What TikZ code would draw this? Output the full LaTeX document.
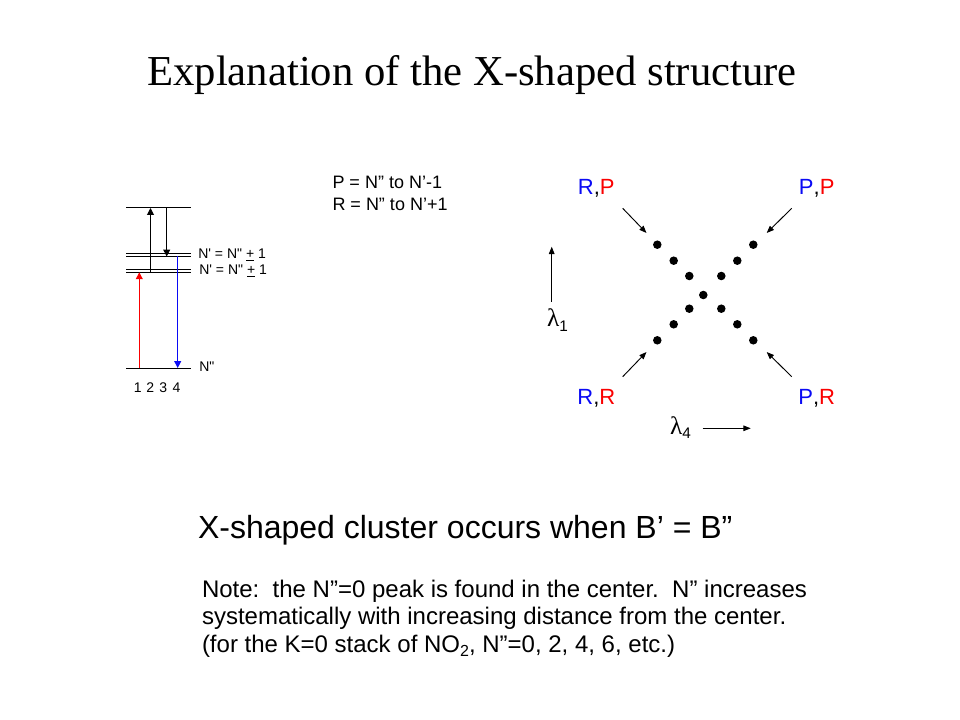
\documentclass[tikz,border=0pt]{standalone}
\usepackage{fontspec}
\setmainfont{Liberation Sans}
\newfontfamily\seriffont{Liberation Serif}
\newfontfamily\plainsans{Liberation Sans}[Ligatures=TeXOff]
\usetikzlibrary{arrows.meta}
\definecolor{myred}{RGB}{250,0,0}
\definecolor{myblue}{RGB}{10,10,245}
\begin{document}
\begin{tikzpicture}[x=0.75pt,y=-0.75pt,
  txt/.style={inner sep=0pt, outer sep=0pt, anchor=base west},
  ctxt/.style={inner sep=0pt, outer sep=0pt, anchor=base},
  lvl/.style={line width=0.75pt},
  tr/.style={line width=0.75pt, -{Triangle[length=5.2pt,width=5.2pt]}},
  sm/.style={line width=0.7pt, -{Triangle[length=5.5pt,width=4.2pt]}},
  dotn/.style={circle, fill=black, inner sep=0pt, minimum size=6.4pt},
  lab/.style={font=\plainsans\fontsize{10.5}{12}\selectfont},
  xl/.style={font=\fontsize{16.5}{19}\selectfont},
]
\useasboundingbox (0,0) rectangle (960,720);
\fill[white] (0,0) rectangle (960,720);

% title
\node[ctxt] (title) at (472,86) {\seriffont\fontsize{32}{38}\selectfont Explanation of the X-shaped structure};

% energy level diagram
\draw[lvl] (126,208) -- (191,208);
\draw[lvl] (126,253.5) -- (191,253.5);
\draw[lvl] (126,256.5) -- (191,256.5);
\draw[lvl] (126,269.3) -- (191,269.3);
\draw[lvl] (126,272.3) -- (191,272.3);
\draw[lvl] (126,368) -- (191,368);

\coordinate (r0) at (139.3,368);   \coordinate (r1) at (139.3,272.3);
\coordinate (u0) at (150.5,272.3); \coordinate (u1) at (150.5,208);
\coordinate (d0) at (166.7,208);   \coordinate (d1) at (166.7,256.5);
\coordinate (b0) at (177.7,256.5); \coordinate (b1) at (177.7,368);
\draw[tr,myred] (r0) -- (r1);
\draw[tr] (u0) -- (u1);
\draw[tr] (d0) -- (d1);
\draw[tr,myblue] (b0) -- (b1);

\node[txt,lab] (lvA) at (198.3,258.3) {N' = N" \underline{+} 1};
\node[txt,lab] (lvB) at (199.3,274.3) {N' = N" \underline{+} 1};
\node[txt,lab] (lvC) at (199.3,371.7) {N"};
\node[ctxt,lab] (n1) at (137.8,392.3) {1};
\node[ctxt,lab] (n2) at (150.3,392.3) {2};
\node[ctxt,lab] (n3) at (163.3,392.3) {3};
\node[ctxt,lab] (n4) at (176.5,392.3) {4};

% P / R definitions
\node[txt,font=\fontsize{13.5}{16}\selectfont] (pdef) at (332.5,189) {P = N” to N’-1};
\node[txt,font=\fontsize{13.5}{16}\selectfont] (rdef) at (332.5,211) {R = N” to N’+1};

% X diagram labels
\node[ctxt,xl] (RP) at (596.3,195) {\textcolor{myblue}{R},\textcolor{myred}{P}};
\node[ctxt,xl] (PP) at (816.7,195) {\textcolor{myblue}{P},\textcolor{myred}{P}};
\node[ctxt,xl] (RR) at (596.3,404.3) {\textcolor{myblue}{R},\textcolor{myred}{R}};
\node[ctxt,xl] (PR) at (816.7,404.3) {\textcolor{myblue}{P},\textcolor{myred}{R}};

\coordinate (a1s) at (622.7,208.3); \coordinate (a1e) at (646.5,233);
\coordinate (a2s) at (791.7,208.3); \coordinate (a2e) at (766.7,233);
\coordinate (a3s) at (622.7,376.7); \coordinate (a3e) at (646.5,352);
\coordinate (a4s) at (791.7,376.7); \coordinate (a4e) at (766.7,352);
\draw[sm] (a1s) -- (a1e);
\draw[sm] (a2s) -- (a2e);
\draw[sm] (a3s) -- (a3e);
\draw[sm] (a4s) -- (a4e);

% dots
\node[dotn] (x1) at (657.3,244.7) {};
\node[dotn] (x2) at (673.7,260.7) {};
\node[dotn] (x3) at (689.3,276) {};
\node[dotn] (x0) at (703.3,295) {};
\node[dotn] (x4) at (689.3,308.7) {};
\node[dotn] (x5) at (673.7,324.3) {};
\node[dotn] (x6) at (657.3,340.3) {};
\node[dotn] (y1) at (753.3,244.7) {};
\node[dotn] (y2) at (737.3,260.7) {};
\node[dotn] (y3) at (721.3,276) {};
\node[dotn] (y4) at (721.3,308.7) {};
\node[dotn] (y5) at (737.3,324.3) {};
\node[dotn] (y6) at (753.3,340.3) {};

% lambda axes
\coordinate (l1s) at (551.7,301.7); \coordinate (l1e) at (551.7,246.7);
\draw[sm] (l1s) -- (l1e);
\node[txt] (lam1) at (547,326.7) {{\seriffont\fontsize{19}{22}\selectfont λ}\raisebox{-3.5pt}{\fontsize{11.5}{13}\selectfont 1}};
\coordinate (l4s) at (702.7,428.3); \coordinate (l4e) at (750.7,428.3);
\draw[sm] (l4s) -- (l4e);
\node[txt] (lam4) at (670,434) {{\seriffont\fontsize{19}{22}\selectfont λ}\raisebox{-3.5pt}{\fontsize{11.5}{13}\selectfont 4}};

% bottom texts
\node[txt,font=\fontsize{24}{28}\selectfont] (xsc) at (198,538) {X-shaped cluster occurs when B’ = B”};
\node[txt,font=\fontsize{18}{20.6}\selectfont] (note1) at (202,597) {Note:\ \ the N”=0 peak is found in the center.\ \ N” increases};
\node[txt,font=\fontsize{18}{20.6}\selectfont] (note2) at (202,624.5) {systematically with increasing distance from the center.};
\node[txt,font=\fontsize{18}{20.6}\selectfont] (note3) at (202,652) {(for the K=0 stack of NO\raisebox{-3.5pt}{\fontsize{12}{14}\selectfont 2}, N”=0, 2, 4, 6, etc.)};
\end{tikzpicture}
\end{document}
